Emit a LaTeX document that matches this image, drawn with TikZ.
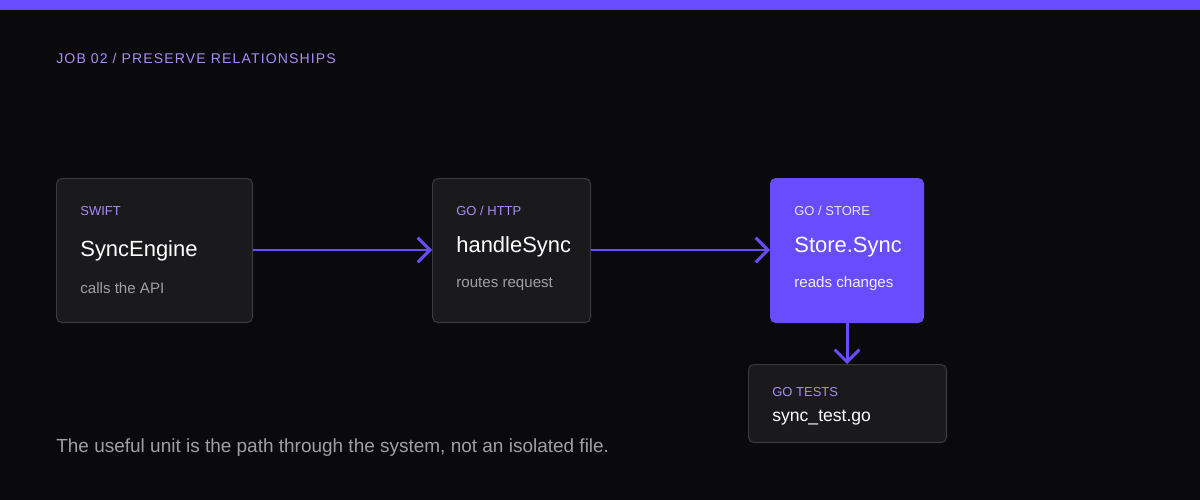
\documentclass[tikz,border=0pt]{standalone}
\usepackage{fontspec}
\setmainfont{Liberation Sans}
\usetikzlibrary{arrows.meta}
\definecolor{bgdark}{HTML}{0A0A0C}
\definecolor{violet}{HTML}{6A4CFF}
\definecolor{lilac}{HTML}{A78BFA}
\definecolor{cardfill}{HTML}{1A1A1C}
\definecolor{cardline}{HTML}{3A3A3E}
\definecolor{mutegray}{HTML}{A0A0A4}
\newcommand{\spacedfont}{\fontsize{8}{9}\selectfont\addfontfeature{LetterSpace=8}}
\tikzset{
  card/.style = {draw = cardline, fill = cardfill, rounded corners = 3pt, line width = 0.6pt, anchor = north west, inner sep = 0pt},
  hotcard/.style = {card, draw = violet, fill = violet},
  tag/.style = {anchor = west, text = lilac, font = \fontsize{7.4}{8}\selectfont, inner sep = 0pt},
  headline/.style = {anchor = west, text = white, font = \fontsize{12.5}{14}\selectfont, inner sep = 0pt},
  note/.style = {anchor = west, text = mutegray, font = \fontsize{8.6}{10}\selectfont, inner sep = 0pt},
  flow/.style = {draw = violet, line width = 1.7pt, -{Straight Barb[length = 7pt, width = 14pt, line width = 1.7pt]}}
}
\begin{document}
\begin{tikzpicture}[x = 0.02cm, y = -0.02cm]
    \fill [bgdark] (0,0) rectangle (1200,500);
    \fill [violet] (0,0) rectangle (1200,10);
    \node [anchor = west, text = lilac, font = \spacedfont, inner sep = 0pt] (title) at (56,58) {JOB 02 / PRESERVE RELATIONSHIPS};

    \node [card, minimum width = 3.92cm, minimum height = 2.88cm] (swift) at (56,178) {};
    \node [tag] (swiftT) at (80,211) {SWIFT};
    \node [headline] (swiftN) at (80,251) {SyncEngine};
    \node [note] (swiftS) at (80,288) {calls the API};

    \node [card, minimum width = 3.16cm, minimum height = 2.88cm] (http) at (432,178) {};
    \node [tag] (httpT) at (456,211) {GO / HTTP};
    \node [headline] (httpN) at (456,247) {handleSync};
    \node [note] (httpS) at (456,284) {routes request};

    \node [hotcard, minimum width = 3.06cm, minimum height = 2.88cm] (store) at (770,178) {};
    \node [tag, text = white!85!violet] (storeT) at (794,211) {GO / STORE};
    \node [headline] (storeN) at (794,247) {Store.Sync};
    \node [note, text = white!90!violet] (storeS) at (794,284) {reads changes};

    \node [card, minimum width = 3.96cm, minimum height = 1.56cm] (tests) at (748,364) {};
    \node [tag] (testsT) at (772,392) {GO TESTS};
    \node [headline, font = \fontsize{10}{12}\selectfont] (testsN) at (772,418) {sync\_test.go};

    \node [anchor = west, text = mutegray, font = \fontsize{10.8}{12}\selectfont, inner sep = 0pt] (moral) at (56,448) {The useful unit is the path through the system, not an isolated file.};

    \draw [flow] (swift.east |- 0,250) -- (http.west |- 0,250);
    \draw [flow] (http.east |- 0,250) -- (store.west |- 0,250);
    \draw [flow] (store.south -| 847,0) -- (tests.north -| 847,0);
\end{tikzpicture}
\end{document}
